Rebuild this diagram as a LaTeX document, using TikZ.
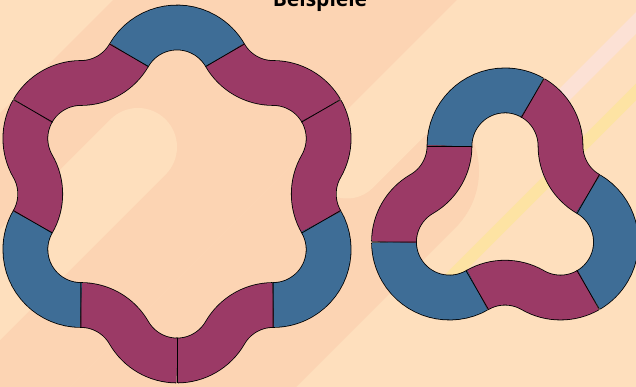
\documentclass[tikz,border=0pt]{standalone}
\usepackage{fontspec}
\setsansfont{Open Sans}
\definecolor{bglight}{HTML}{FEDFBD}
\definecolor{bgdark}{HTML}{FCD4B3}
\definecolor{stripepink}{HTML}{FCE1D5}
\definecolor{stripeyellow}{HTML}{FDE3A3}
\definecolor{tileblue}{HTML}{3E6D96}
\definecolor{tilered}{HTML}{9B3A66}

\begin{document}
\begin{tikzpicture}[x=1pt, y=1pt,
	tile/.style={draw=black, line width=0.8pt, double distance=44pt},
	blue tile/.style={tile, double=tileblue},
	red tile/.style={tile, double=tilered},
	cut/.style={line width=0.8pt},
	band/.style={line cap=round}]
	\useasboundingbox (0,0) rectangle (636,387);
	\begin{scope}
		\clip (0,0) rectangle (636,387);
		\fill[bglight] (0,0) rectangle (636,387);
		\draw[bgdark, line width=243pt] (-200,-98) -- (700,802);
		\draw[bgdark, band, line width=160pt] (-200,-383) -- (399,216);
		\draw[bglight, band, line width=78pt] (-200,-98) -- (138,240);
		\draw[bglight, band, line width=73pt] (347,225) -- (800,678);
		\draw[stripepink, band, line width=15.5pt] (555,283) -- (800,528);
		\draw[stripeyellow, band, line width=12pt] (445,104) -- (800,459);
	\end{scope}
	\node[font=\sffamily\bfseries\fontsize{21}{21}\selectfont, anchor=base] (title) at (320,380) {Beispiele};

	% sechs Boegen aussen, sechs innen
	\begin{scope}[shift={(177,193)}]
		\foreach \k in {0,1,2} {
			\begin{scope}[rotate=-120*\k]
				\draw[blue tile] (90:111) ++(150:55.5) arc[start angle=150, end angle=30, radius=55.5];
				\draw[red tile] (60:192.26) ++(210:55.5) arc[start angle=210, end angle=270, radius=55.5] arc[start angle=90, end angle=30, radius=55.5];
				\draw[red tile] (30:111) ++(30:55.5) arc[start angle=30, end angle=-30, radius=55.5] arc[start angle=150, end angle=210, radius=55.5];
			\end{scope}
		}
		\foreach \k in {0,1,2} {
			\begin{scope}[rotate=-120*\k]
				\draw[cut] (90:111) ++(150:33.1) -- ++(150:44.8);
				\draw[cut] (90:111) ++(30:33.1) -- ++(30:44.8);
				\draw[cut] (30:111) ++(30:33.1) -- ++(30:44.8);
			\end{scope}
		}
	\end{scope}

	% Kleeblatt
	\begin{scope}[shift={(505,177)}]
		\foreach \k in {0,1,2} {
			\begin{scope}[rotate=-120*\k]
				\draw[blue tile] (90:64.09) ++(180:55.5) arc[start angle=180, end angle=60, radius=55.5];
				\draw[red tile] (90:64.09) ++(60:55.5) arc[start angle=60, end angle=0, radius=55.5] arc[start angle=180, end angle=240, radius=55.5];
			\end{scope}
		}
		\foreach \k in {0,1,2} {
			\begin{scope}[rotate=-120*\k]
				\draw[cut] (90:64.09) ++(180:33.1) -- ++(180:44.8);
				\draw[cut] (90:64.09) ++(60:33.1) -- ++(60:44.8);
			\end{scope}
		}
	\end{scope}
\end{tikzpicture}
\end{document}
